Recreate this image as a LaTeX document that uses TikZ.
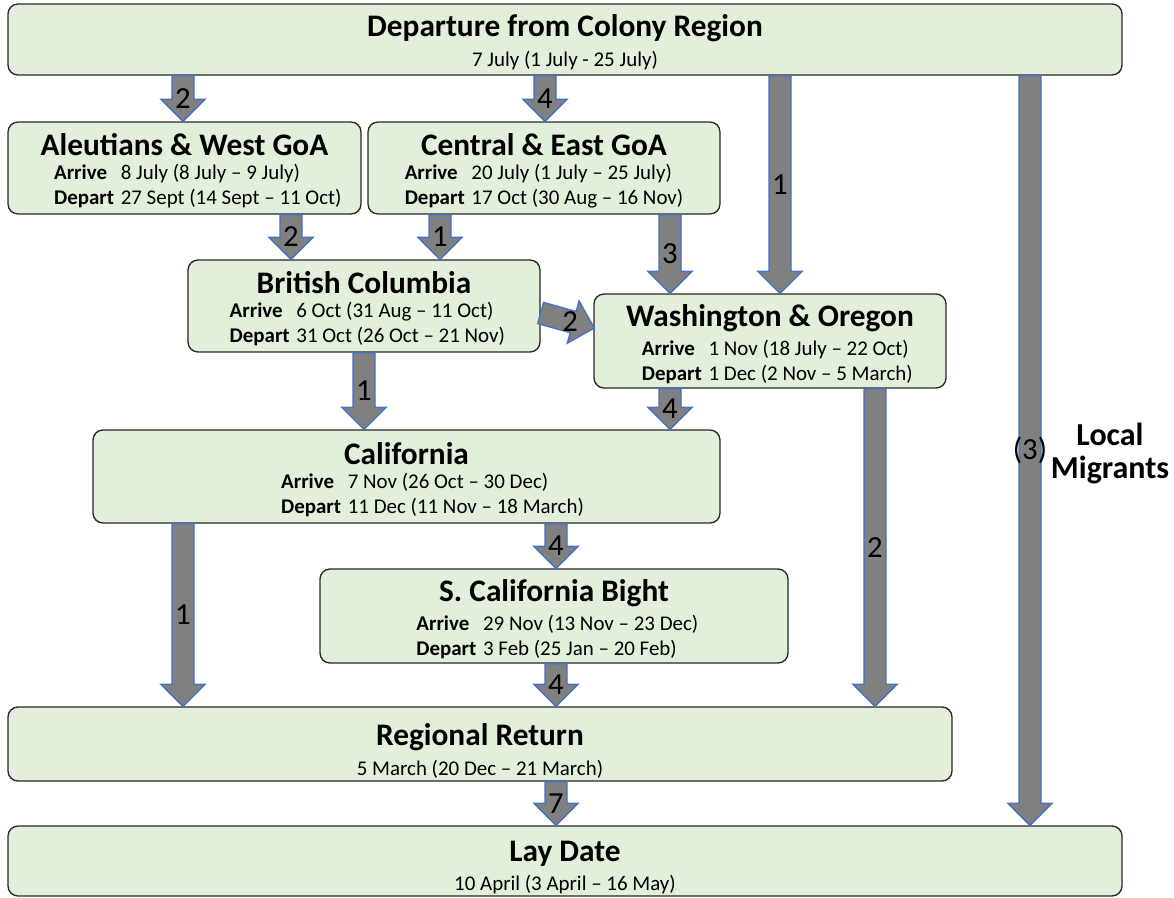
\documentclass[tikz,border=0pt]{standalone}
\usepackage{fontspec}
\setmainfont{Carlito}
\usetikzlibrary{calc}
\definecolor{stagegreen}{RGB}{226,239,218}
\definecolor{flowgray}{RGB}{128,128,128}
\definecolor{flowblue}{RGB}{68,114,196}

\newcommand{\titlesize}{\fontsize{23.5}{27}\selectfont\bfseries}
\newcommand{\datesize}{\fontsize{15.7}{18.75}\selectfont}
% stage text: [shift], title, arrive, depart
\newcommand{\stagetext}[4][0pt]{{\titlesize\rule{0pt}{24pt}#2}\\[4pt]
  \hspace*{#1}\datesize\begin{tabular}{@{}l@{\hspace{5pt}}l@{}}
    \textbf{Arrive} & #3\\
    \textbf{Depart} & #4
  \end{tabular}}
% block arrow going down: from node, to node, x, label
\newcommand{\flowdown}[4]{%
  \draw[flowarrow] let \p1=(#1.south), \p2=(#2.north), \p3=(#3,0) in
    (\x3-8.25pt,\y1) -- (\x3+8.25pt,\y1) -- (\x3+8.25pt,\y2+16.5pt) -- (\x3+16.5pt,\y2+16.5pt)
    -- (\x3,\y2) -- (\x3-16.5pt,\y2+16.5pt) -- (\x3-8.25pt,\y2+16.5pt) -- cycle
    (\x3,{(\y1+\y2)/2}) node[flowlabel] {#4};}

\tikzset{
  stage/.style={draw=black!85, fill=stagegreen, rounded corners=7.5pt, line width=1pt,
    align=center, inner sep=0pt},
  flowarrow/.style={fill=flowgray, draw=flowblue, line width=1pt, line join=miter},
  flowlabel/.style={font=\fontsize{23}{27}\selectfont, inner sep=0pt},
}

\begin{document}
\begin{tikzpicture}[x=0.75pt, y=-0.75pt]
  \useasboundingbox (0,0) rectangle (1174,897);

  \node[stage, minimum width=835.5pt, minimum height=53.25pt] (dep) at (565,39.5)
    {{\titlesize\rule{0pt}{21pt}Departure from Colony Region}\\[6pt] {\datesize 7 July (1 July - 25 July)}};
  \node[stage, minimum width=264.75pt, minimum height=69pt] (ale) at (184.5,168)
    {\stagetext[20pt]{Aleutians \& West GoA}{8 July (8 July -- 9 July)}{27 Sept (14 Sept -- 11 Oct)}};
  \node[stage, minimum width=264pt, minimum height=69pt] (cen) at (544,168)
    {\stagetext{Central \& East GoA}{20 July (1 July -- 25 July)}{17 Oct (30 Aug -- 16 Nov)}};
  \node[stage, minimum width=264pt, minimum height=69pt] (bc) at (364,306)
    {\stagetext[5pt]{British Columbia}{6 Oct (31 Aug -- 11 Oct)}{31 Oct (26 Oct -- 21 Nov)}};
  \node[stage, minimum width=264pt, minimum height=69pt] (wo) at (770,341)
    {\stagetext[11pt]{Washington \& Oregon}{1 Nov (18 July -- 22 Oct)}{1 Dec (2 Nov -- 5 March)}};
  \node[stage, minimum width=470.25pt, minimum height=69.75pt] (cal) at (406.5,476.5)
    {\stagetext[39pt]{California}{7 Nov (26 Oct -- 30 Dec)}{11 Dec (11 Nov -- 18 March)}};
  \node[stage, minimum width=351pt, minimum height=69pt] (scb) at (554,616)
    {\stagetext[5pt]{S. California Bight}{29 Nov (13 Nov -- 23 Dec)}{3 Feb (25 Jan -- 20 Feb)}};
  \node[stage, minimum width=708pt, minimum height=55.5pt] (ret) at (480,744)
    {{\titlesize\rule{0pt}{27pt}Regional Return}\\[6pt] {\datesize 5 March (20 Dec -- 21 March)}};
  \node[stage, minimum width=835.5pt, minimum height=52.5pt] (lay) at (565,861)
    {{\titlesize\rule{0pt}{25pt}Lay Date}\\[5pt] {\datesize 10 April (3 April -- 16 May)}};

  \node[align=center, font=\fontsize{24}{24.75}\selectfont\bfseries] (local) at (1110,453)
    {Local\\Migrants};

  \flowdown{dep}{ale}{183}{2}
  \flowdown{dep}{cen}{545}{4}
  \flowdown{dep}{wo}{780}{1}
  \flowdown{dep}{lay}{1030}{(3)}
  \flowdown{ale}{bc}{291}{2}
  \flowdown{cen}{bc}{440}{1}
  \flowdown{cen}{wo}{670}{3}
  \flowdown{bc}{cal}{364}{1}
  \flowdown{wo}{cal}{670}{4}
  \flowdown{wo}{ret}{875}{2}
  \flowdown{cal}{ret}{183}{1}
  \flowdown{cal}{scb}{556}{4}
  \flowdown{scb}{ret}{556}{4}
  \flowdown{ret}{lay}{556}{7}

  % slanted arrow from British Columbia to Washington & Oregon
  \coordinate (bcwoA) at ($(bc.east)+(0,7)$);
  \coordinate (bcwoB) at ($(wo.west)+(1,-13)$);
  \coordinate (bcwoH) at ($(bcwoB)!16.5pt!(bcwoA)$);
  \draw[flowarrow] ($(bcwoA)!8.25pt!90:(bcwoB)$) -- ($(bcwoH)!8.25pt!90:(bcwoB)$)
    -- ($(bcwoH)!16.5pt!90:(bcwoB)$) -- (bcwoB) -- ($(bcwoH)!16.5pt!-90:(bcwoB)$)
    -- ($(bcwoH)!8.25pt!-90:(bcwoB)$) -- ($(bcwoA)!8.25pt!-90:(bcwoB)$) -- cycle;
  \node[flowlabel] (bcwolabel) at ($(bcwoA)!0.55!(bcwoB)$) {2};
\end{tikzpicture}
\end{document}
